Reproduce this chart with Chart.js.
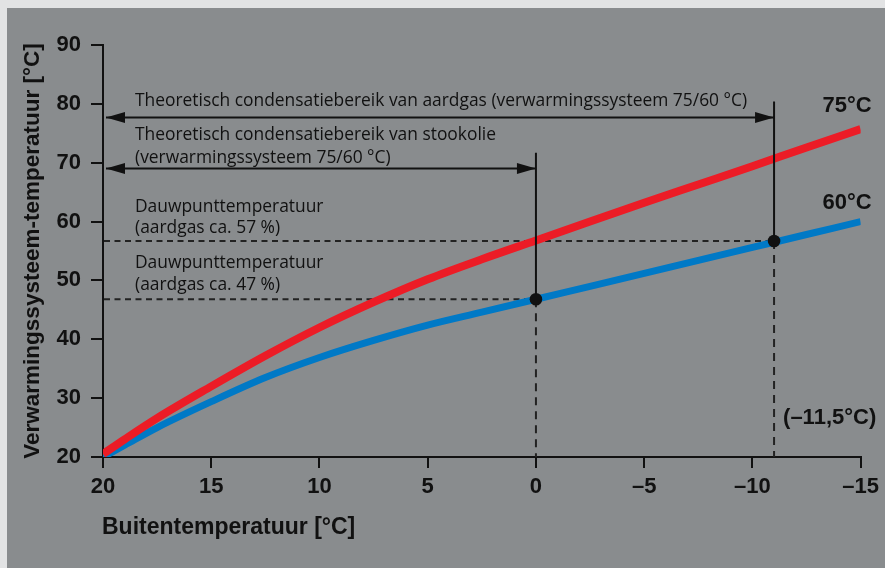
<!DOCTYPE html>
<html>
<head>
<meta charset="utf-8">
<script src="https://cdn.jsdelivr.net/npm/chart.js@4.4.1/dist/chart.umd.min.js"></script>
<style>
html,body{margin:0;padding:0;background:#e2e3e4;}
canvas{display:block;}
</style>
</head>
<body>
<canvas id="c" width="885" height="568"></canvas>
<script>
// ---- data ----
const outdoorTemps = [20, 19, 17.5, 15, 12.5, 10, 7.5, 5, 2.5, 0, -2.5, -5, -7.5, -10, -12.5, -15];
const supply75 = [20.5, 23.0, 26.6, 32.0, 37.2, 42.0, 46.3, 50.2, 53.6, 56.8, 60.0, 63.2, 66.3, 69.4, 72.6, 75.7];
const supply60 = [20.0, 22.0, 25.0, 29.4, 33.5, 36.9, 39.8, 42.4, 44.6, 46.8, 49.0, 51.2, 53.4, 55.6, 57.8, 60.0];
const seriesLabels = ['75°C', '60°C'];

const xTicks = [20, 15, 10, 5, 0, -5, -10, -15];
const yTicks = [20, 30, 40, 50, 60, 70, 80, 90];

// annotation values
const gasLimitX = -11;         // crossing of the 60 °C curve with the 57 % dew point
const oilLimitX = 0;           // crossing with the 47 % dew point
const dewGasY = 56.7;          // dew point ~57
const dewOilY = 46.8;          // dew point ~47
const gasArrowY = 77.7;
const oilArrowY = 69.0;
const gasLineTopY = 80.4;
const oilLineTopY = 71.7;
const gasLimitLabel = '(–11,5°C)';

const xTitle = 'Buitentemperatuur [°C]';
const yTitle = 'Verwarmingssysteem-temperatuur [°C]';
const textGas = 'Theoretisch condensatiebereik van aardgas (verwarmingssysteem 75/60 °C)';
const textOil = ['Theoretisch condensatiebereik van stookolie', '(verwarmingssysteem 75/60 °C)'];
const textDew57 = ['Dauwpunttemperatuur', '(aardgas ca. 57 %)'];
const textDew47 = ['Dauwpunttemperatuur', '(aardgas ca. 47 %)'];

const BLACK = '#111111';
const DASH = '#222222';
const TXT_FONT = '17.4px "Open Sans", "DejaVu Sans", sans-serif';
const BOLD = 'Liberation Sans, Arial, sans-serif';

const bgPlugin = {
  id: 'bg',
  beforeDraw(chart) {
    const ctx = chart.ctx;
    ctx.save();
    ctx.fillStyle = '#e2e3e4';
    ctx.fillRect(0, 0, chart.width, chart.height);
    ctx.fillStyle = '#898c8e';
    ctx.fillRect(7, 8, chart.width - 7, chart.height - 8);
    ctx.restore();
  }
};

function arrowHead(ctx, tipX, y, dir) {
  ctx.beginPath();
  ctx.moveTo(tipX, y);
  ctx.lineTo(tipX - dir * 19, y - 5.5);
  ctx.lineTo(tipX - dir * 19, y + 5.5);
  ctx.closePath();
  ctx.fill();
}

const annoPlugin = {
  id: 'anno',
  beforeDatasetsDraw(chart) {
    const ctx = chart.ctx, xs = chart.scales.x, ys = chart.scales.y;
    const left = chart.chartArea.left;
    ctx.save();
    ctx.strokeStyle = DASH;
    ctx.lineWidth = 2;
    ctx.setLineDash([6, 4.5]);
    // horizontal dew-point lines
    let y57 = ys.getPixelForValue(dewGasY), y47 = ys.getPixelForValue(dewOilY);
    ctx.beginPath();
    ctx.moveTo(left + 1, y57); ctx.lineTo(xs.getPixelForValue(gasLimitX), y57);
    ctx.moveTo(left + 1, y47); ctx.lineTo(xs.getPixelForValue(oilLimitX), y47);
    ctx.stroke();
    // vertical dashed below dots
    ctx.setLineDash([8, 6]);
    ctx.beginPath();
    ctx.moveTo(xs.getPixelForValue(gasLimitX), y57); ctx.lineTo(xs.getPixelForValue(gasLimitX), ys.getPixelForValue(20));
    ctx.moveTo(xs.getPixelForValue(oilLimitX), y47); ctx.lineTo(xs.getPixelForValue(oilLimitX), ys.getPixelForValue(20));
    ctx.stroke();
    ctx.setLineDash([]);

    // texts
    ctx.fillStyle = BLACK;
    ctx.font = TXT_FONT;
    ctx.textAlign = 'left';
    ctx.textBaseline = 'middle';
    const tx = left + 32;
    const yg = ys.getPixelForValue(gasArrowY);
    const yo = ys.getPixelForValue(oilArrowY);
    ctx.fillText(textGas, tx, yg - 16);
    ctx.fillText(textOil[0], tx, yo - 34);
    ctx.fillText(textOil[1], tx, yo - 11);
    ctx.fillText(textDew57[0], tx, y57 - 34);
    ctx.fillText(textDew57[1], tx, y57 - 13);
    ctx.fillText(textDew47[0], tx, y47 - 36);
    ctx.fillText(textDew47[1], tx, y47 - 14);
    ctx.restore();
  },
  afterDatasetsDraw(chart) {
    const ctx = chart.ctx, xs = chart.scales.x, ys = chart.scales.y;
    const left = chart.chartArea.left;
    ctx.save();
    ctx.strokeStyle = BLACK;
    ctx.fillStyle = BLACK;
    ctx.lineWidth = 2;
    const gx = xs.getPixelForValue(gasLimitX), ox = xs.getPixelForValue(oilLimitX);
    const y57 = ys.getPixelForValue(dewGasY), y47 = ys.getPixelForValue(dewOilY);
    const yg = ys.getPixelForValue(gasArrowY), yo = ys.getPixelForValue(oilArrowY);
    // vertical solid lines
    ctx.beginPath();
    ctx.moveTo(gx, ys.getPixelForValue(gasLineTopY)); ctx.lineTo(gx, y57);
    ctx.moveTo(ox, ys.getPixelForValue(oilLineTopY)); ctx.lineTo(ox, y47);
    // arrow shafts
    ctx.moveTo(left + 3, yg); ctx.lineTo(gx, yg);
    ctx.moveTo(left + 3, yo); ctx.lineTo(ox, yo);
    ctx.stroke();
    arrowHead(ctx, left + 3, yg, -1);
    arrowHead(ctx, gx, yg, 1);
    arrowHead(ctx, left + 3, yo, -1);
    arrowHead(ctx, ox, yo, 1);
    // dots
    ctx.beginPath(); ctx.arc(gx, y57, 6.3, 0, Math.PI * 2); ctx.fill();
    ctx.beginPath(); ctx.arc(ox, y47, 6.3, 0, Math.PI * 2); ctx.fill();

    // series labels
    ctx.font = 'bold 22px ' + BOLD;
    ctx.textAlign = 'right';
    ctx.textBaseline = 'middle';
    const lastX = xs.getPixelForValue(outdoorTemps[outdoorTemps.length - 1]);
    ctx.fillText(seriesLabels[0], lastX + 11, ys.getPixelForValue(supply75[supply75.length - 1]) - 23);
    ctx.fillText(seriesLabels[1], lastX + 11, ys.getPixelForValue(supply60[supply60.length - 1]) - 19);
    ctx.textAlign = 'left';
    ctx.fillText(gasLimitLabel, gx + 9, ys.getPixelForValue(20) - 39);

    // x axis title (left aligned under the axis start)
    ctx.font = 'bold 23px ' + BOLD;
    ctx.fillText(xTitle, left - 1, 528);
    ctx.restore();
  }
};

new Chart(document.getElementById('c'), {
  type: 'line',
  data: {
    datasets: [
      {
        label: seriesLabels[0],
        data: outdoorTemps.map((x, i) => ({x, y: supply75[i]})),
        borderColor: '#ec1c26',
        borderWidth: 8,
        pointRadius: 0,
        cubicInterpolationMode: 'monotone',
        fill: false
      },
      {
        label: seriesLabels[1],
        data: outdoorTemps.map((x, i) => ({x, y: supply60[i]})),
        borderColor: '#0079c6',
        borderWidth: 7,
        pointRadius: 0,
        cubicInterpolationMode: 'monotone',
        fill: false
      }
    ]
  },
  options: {
    responsive: false,
    animation: false,
    devicePixelRatio: 1,
    layout: { padding: { top: 45, right: 22, left: 0, bottom: 0 } },
    plugins: { legend: { display: false }, tooltip: { enabled: false } },
    scales: {
      x: {
        type: 'linear',
        reverse: true,
        min: xTicks[xTicks.length - 1],
        max: xTicks[0],
        afterBuildTicks: (s) => { s.ticks = xTicks.map(v => ({ value: v })); },
        afterFit: (s) => { s.height = 111; },
        ticks: {
          color: BLACK,
          font: { family: BOLD, size: 22, weight: 'bold' },
          padding: 6,
          maxRotation: 0,
          callback: (v) => (v < 0 ? '–' + Math.abs(v) : String(v))
        },
        grid: { drawOnChartArea: false, drawTicks: true, tickLength: 11, color: BLACK, lineWidth: 2 },
        border: { display: true, color: BLACK, width: 2 },
        title: { display: false }
      },
      y: {
        type: 'linear',
        min: yTicks[0],
        max: yTicks[yTicks.length - 1],
        afterBuildTicks: (s) => { s.ticks = yTicks.map(v => ({ value: v })); },
        afterFit: (s) => { s.width = 103; },
        ticks: {
          color: BLACK,
          font: { family: BOLD, size: 22, weight: 'bold' },
          padding: 10
        },
        grid: { drawOnChartArea: false, drawTicks: true, tickLength: 12, color: BLACK, lineWidth: 2 },
        border: { display: true, color: BLACK, width: 2 },
        title: {
          display: true,
          text: yTitle,
          color: BLACK,
          font: { family: BOLD, size: 22.5, weight: 'bold' },
          padding: { top: 19, bottom: 0 }
        }
      }
    }
  },
  plugins: [bgPlugin, annoPlugin]
});
</script>
</body>
</html>
